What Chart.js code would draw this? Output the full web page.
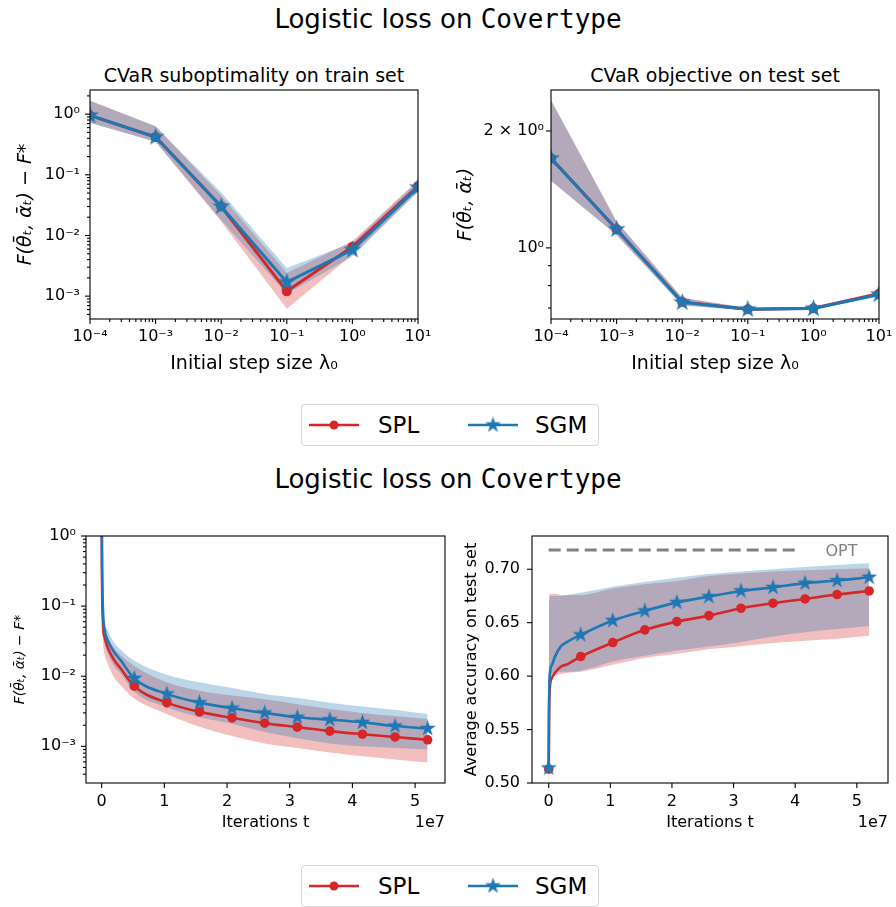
<!DOCTYPE html>
<html>
<head>
<meta charset="utf-8">
<script src="https://cdn.jsdelivr.net/npm/chart.js@4.4.1/dist/chart.umd.min.js"></script>
<style>
  body { margin: 0; background: #fff; font-family: 'DejaVu Sans', sans-serif; }
  #fig { position: relative; width: 896px; height: 907px; overflow: hidden; }
  #fig canvas.plot { position: absolute; }
  .title { position: absolute; left: 0; width: 896px; text-align: center; font-size: 26px; line-height: 30px; }
  .title span { font-family: 'DejaVu Sans Mono', monospace; }
  .sub { position: absolute; width: 330px; text-align: center; font-size: 19px; line-height: 22px; }
  .legend { position: absolute; left: 301px; width: 296px; height: 40px; border: 1px solid #d5d5d5; border-radius: 4px; background: #fff; }
  .legend canvas { position: absolute; top: 10px; }
  .legend div { position: absolute; top: 0; font-size: 23px; line-height: 41px; }
</style>
</head>
<body>
<div id="fig">
  <div class="title" style="top:4px">Logistic loss on <span>Covertype</span></div>
  <div class="sub" style="left:89px;top:64px">CVaR suboptimality on train set</div>
  <div class="sub" style="left:550px;top:64px">CVaR objective on test set</div>
  <canvas class="plot" id="trainChart" width="440" height="310" style="left:0;top:80px"></canvas>
  <canvas class="plot" id="testChart" width="456" height="310" style="left:440px;top:80px"></canvas>
  <div class="legend" style="top:404px">
    <canvas class="icon-spl" width="52" height="20" style="left:6px"></canvas><div style="left:76px">SPL</div>
    <canvas class="icon-sgm" width="52" height="20" style="left:165px"></canvas><div style="left:233px">SGM</div>
  </div>
  <div class="title" style="top:464px">Logistic loss on <span>Covertype</span></div>
  <canvas class="plot" id="gapChart" width="460" height="320" style="left:0;top:520px"></canvas>
  <canvas class="plot" id="accChart" width="456" height="320" style="left:440px;top:520px"></canvas>
  <div class="legend" style="top:865px">
    <canvas class="icon-spl" width="52" height="20" style="left:6px"></canvas><div style="left:76px">SPL</div>
    <canvas class="icon-sgm" width="52" height="20" style="left:165px"></canvas><div style="left:233px">SGM</div>
  </div>
</div>
<script>
// ---- data: step size sweep (top row) ----
const stepSizes = [1e-4, 1e-3, 1e-2, 1e-1, 1, 10];
const stepTickLabels = ['10⁻⁴', '10⁻³', '10⁻²', '10⁻¹', '10⁰', '10¹'];

const trainSPL   = [0.95, 0.42, 0.030, 0.0012, 0.0065, 0.065];
const trainSPLLo = [0.72, 0.35, 0.017, 0.00062, 0.0048, 0.053];
const trainSPLHi = [1.66, 0.63, 0.045, 0.0024, 0.0080, 0.081];
const trainSGM   = [0.95, 0.42, 0.030, 0.0017, 0.0058, 0.062];
const trainSGMLo = [0.72, 0.35, 0.018, 0.0011, 0.0045, 0.052];
const trainSGMHi = [1.66, 0.63, 0.051, 0.0029, 0.0076, 0.079];
const gapTicks = [1e-3, 1e-2, 1e-1, 1];
const gapTickLabels = ['10⁻³', '10⁻²', '10⁻¹', '10⁰'];

const testSPL   = [1.70, 1.117, 0.726, 0.695, 0.699, 0.762];
const testSPLLo = [1.49, 1.08, 0.712, 0.690, 0.694, 0.752];
const testSPLHi = [2.40, 1.17, 0.745, 0.700, 0.704, 0.771];
const testSGM   = [1.70, 1.117, 0.724, 0.695, 0.698, 0.759];
const testSGMLo = [1.49, 1.08, 0.711, 0.690, 0.693, 0.750];
const testSGMHi = [2.40, 1.17, 0.742, 0.700, 0.703, 0.768];
const testTicks = [1, 2];
const testTickLabels = ['10⁰', '2 × 10⁰'];

// ---- data: iterations (bottom row) ----
const iterations = [0, 0.005e7, 0.02e7, 0.05e7, 0.1e7, 0.2e7, 0.3e7, 0.52e7, 1.04e7, 1.56e7,
                    2.08e7, 2.6e7, 3.12e7, 3.64e7, 4.16e7, 4.68e7, 5.2e7];
const markerIdx = [0, 7, 8, 9, 10, 11, 12, 13, 14, 15, 16];
const iterTicks = [0, 1e7, 2e7, 3e7, 4e7, 5e7];
const iterTickLabels = ['0', '1', '2', '3', '4', '5'];

const gapSPL   = [3, 0.3, 0.06, 0.035, 0.025, 0.017, 0.013, 0.0072, 0.0042, 0.0031, 0.00255, 0.00214, 0.00188, 0.00165, 0.00149, 0.00136, 0.00124];
const gapSPLLo = [2, 0.15, 0.035, 0.02, 0.015, 0.0095, 0.0075, 0.0048, 0.0029, 0.0019, 0.0014, 0.0011, 0.00095, 0.00082, 0.00072, 0.00065, 0.00059];
const gapSPLHi = [5, 0.5, 0.09, 0.05, 0.035, 0.025, 0.02, 0.014, 0.0082, 0.0062, 0.0053, 0.0047, 0.0040, 0.0034, 0.0030, 0.0027, 0.00245];
const gapSGM   = [3, 0.5, 0.09, 0.045, 0.032, 0.022, 0.017, 0.0093, 0.0056, 0.0042, 0.0035, 0.0030, 0.0026, 0.0024, 0.0022, 0.00195, 0.0018];
const gapSGMLo = [2, 0.3, 0.06, 0.03, 0.021, 0.014, 0.011, 0.006, 0.0036, 0.0026, 0.0021, 0.0016, 0.0013, 0.0011, 0.0010, 0.00095, 0.0009];
const gapSGMHi = [5, 0.7, 0.12, 0.06, 0.045, 0.03, 0.024, 0.0166, 0.0105, 0.0082, 0.0068, 0.0056, 0.0049, 0.0042, 0.0037, 0.0033, 0.0029];

const accSPL   = [0.513, 0.56, 0.59, 0.598, 0.603, 0.609, 0.611, 0.6183, 0.6314, 0.6433, 0.651, 0.6566, 0.6635, 0.6682, 0.6722, 0.6763, 0.6797];
const accSPLLo = [0.50, 0.58, 0.598, 0.600, 0.601, 0.602, 0.603, 0.604, 0.6106, 0.617, 0.621, 0.6252, 0.628, 0.631, 0.633, 0.635, 0.6377];
const accSPLHi = [0.52, 0.665, 0.677, 0.677, 0.677, 0.676, 0.676, 0.676, 0.682, 0.686, 0.689, 0.6937, 0.696, 0.698, 0.699, 0.700, 0.701];
const accSGM   = [0.514, 0.57, 0.603, 0.61, 0.618, 0.628, 0.632, 0.6386, 0.652, 0.661, 0.669, 0.6744, 0.6797, 0.683, 0.687, 0.6894, 0.6925];
const accSGMLo = [0.50, 0.585, 0.600, 0.602, 0.603, 0.604, 0.604, 0.605, 0.6137, 0.619, 0.624, 0.6277, 0.632, 0.637, 0.641, 0.644, 0.647];
const accSGMHi = [0.52, 0.663, 0.675, 0.675, 0.675, 0.675, 0.676, 0.678, 0.6837, 0.688, 0.692, 0.6956, 0.698, 0.700, 0.702, 0.704, 0.7056];
const accTicks = [0.50, 0.55, 0.60, 0.65, 0.70];
const accTickLabels = ['0.50', '0.55', '0.60', '0.65', '0.70'];
const optAccuracy = 0.718;
const optUntil = 4e7;

const RED = '#d62728', BLUE = '#1f77b4';
const RED_BAND = 'rgba(214,39,40,0.3)', BLUE_BAND = 'rgba(31,119,180,0.3)';
const FONT = "'DejaVu Sans'";

Chart.defaults.font.family = FONT;
Chart.defaults.color = '#000';

function makeStar(color, R) {
    const c = document.createElement('canvas');
    const s = Math.ceil(R * 2 + 2);
    c.width = c.height = s;
    const g = c.getContext('2d');
    g.fillStyle = color;
    g.beginPath();
    for (let i = 0; i < 10; i++) {
        const r = i % 2 ? R * 0.382 : R;
        const a = -Math.PI / 2 + i * Math.PI / 5;
        g.lineTo(s / 2 + r * Math.cos(a), s / 2 + r * Math.sin(a));
    }
    g.closePath();
    g.fill();
    return c;
}

// minor log ticks m*10^k between lo and hi
function logMinors(lo, hi) {
    const out = [];
    for (let k = -6; k <= 2; k++) {
        for (let m = 2; m <= 9; m++) {
            const v = m * Math.pow(10, k);
            if (v > lo && v < hi) out.push(v);
        }
    }
    return out;
}

function pts(xs, ys) {
    return xs.map((x, i) => ({ x: x, y: ys[i] }));
}

function band(xs, ys, color, fill, smooth) {
    return {
        data: pts(xs, ys), borderWidth: 0, pointRadius: 0, fill: fill,
        backgroundColor: color, borderColor: 'transparent',
        cubicInterpolationMode: smooth ? 'monotone' : 'default'
    };
}

function meanLine(xs, ys, color, style, radius, lw, smooth, marks) {
    return {
        data: pts(xs, ys), borderColor: color, backgroundColor: color, borderWidth: lw,
        pointStyle: style, pointBorderWidth: 0, fill: false,
        pointRadius: ctx => (!marks || marks.includes(ctx.dataIndex)) ? radius : 0,
        cubicInterpolationMode: smooth ? 'monotone' : 'default'
    };
}

function axis(type, min, max, ticks, labels, size, pad, title) {
    const horizontal = size.height !== undefined;
    return {
        type: type, min: min, max: max,
        grid: { display: false, drawTicks: false },
        border: { display: false },
        afterBuildTicks: s => { s.ticks = ticks.map(v => ({ value: v })); },
        afterFit: s => {
            // fixed axis boxes so the plot areas line up with the figure
            if (horizontal) {
                s.height = size.height;
                s.paddingLeft = s.paddingRight = 0;
            } else {
                s.width = size.width;
                s.paddingTop = s.paddingBottom = 0;
            }
        },
        ticks: {
            autoSkip: false, maxRotation: 0, padding: pad,
            font: { size: 16 },
            callback: (v, i) => labels[i]
        },
        title: title
    };
}

// box, ticks, offset text and annotations like matplotlib
const framePlugin = {
    id: 'frame',
    afterDraw(chart, args, opts) {
        const { ctx, chartArea: a, scales } = chart;
        ctx.save();
        ctx.strokeStyle = '#000';
        ctx.lineWidth = 1.1;
        ctx.strokeRect(a.left, a.top, a.right - a.left, a.bottom - a.top);
        const tick = (axisScale, v, len, vertical) => {
            const p = axisScale.getPixelForValue(v);
            ctx.beginPath();
            if (vertical) { ctx.moveTo(a.left, p); ctx.lineTo(a.left - len, p); }
            else { ctx.moveTo(p, a.bottom); ctx.lineTo(p, a.bottom + len); }
            ctx.stroke();
        };
        scales.x.ticks.forEach(t => tick(scales.x, t.value, 5, false));
        scales.y.ticks.forEach(t => tick(scales.y, t.value, 5, true));
        (opts.minorX || []).forEach(v => tick(scales.x, v, 3, false));
        (opts.minorY || []).forEach(v => tick(scales.y, v, 3, true));
        if (opts.offsetText) {
            ctx.font = '16px ' + FONT;
            ctx.fillStyle = '#000';
            ctx.textAlign = 'right';
            ctx.textBaseline = 'middle';
            ctx.fillText(opts.offsetText, a.right, a.bottom + 40);
        }
        if (opts.note) {
            ctx.font = '16px ' + FONT;
            ctx.fillStyle = '#808080';
            ctx.textAlign = 'left';
            ctx.textBaseline = 'middle';
            ctx.fillText(opts.note.text, scales.x.getPixelForValue(opts.note.x), scales.y.getPixelForValue(opts.note.y) + 2);
        }
        ctx.restore();
    }
};

const starTop = makeStar(BLUE, 9.5);
const starBottom = makeStar(BLUE, 8.5);

function baseOptions(padding, scales, frame) {
    return {
        responsive: false, animation: false,
        layout: { padding: padding },
        plugins: { legend: { display: false }, tooltip: { enabled: false }, frame: frame },
        scales: scales
    };
}

const labelFont = (size, italic) => ({ size: size, style: italic ? 'italic' : 'normal' });
const yLabel = 'F(θ̄ₜ, ᾱₜ) − F*';

// top left: suboptimality vs step size
new Chart(document.getElementById('trainChart'), {
    type: 'line',
    data: {
        datasets: [
            meanLine(stepSizes, trainSGM, BLUE, starTop, 9, 3, false),
            meanLine(stepSizes, trainSPL, RED, 'circle', 5, 3, false),
            band(stepSizes, trainSGMHi, BLUE_BAND, '+1'),
            band(stepSizes, trainSGMLo, BLUE_BAND, false),
            band(stepSizes, trainSPLHi, RED_BAND, '+1'),
            band(stepSizes, trainSPLLo, RED_BAND, false)
        ]
    },
    options: baseOptions({ top: 10, right: 22, left: 0, bottom: 0 }, {
        x: axis('logarithmic', 1e-4, 10, stepSizes, stepTickLabels, { height: 71 }, 8,
            { display: true, text: 'Initial step size λ₀', font: labelFont(19), padding: { top: 0, bottom: 15 } }),
        y: axis('logarithmic', 4.2e-4, 2.5, gapTicks, gapTickLabels, { width: 90 }, 10,
            { display: true, text: yLabel, font: labelFont(19, true), padding: { top: 15, bottom: 0 } })
    }, { minorX: logMinors(1e-4, 10), minorY: logMinors(4.2e-4, 2.5) }),
    plugins: [framePlugin]
});

// top right: test objective vs step size
new Chart(document.getElementById('testChart'), {
    type: 'line',
    data: {
        datasets: [
            meanLine(stepSizes, testSGM, BLUE, starTop, 9, 3, false),
            meanLine(stepSizes, testSPL, RED, 'circle', 5, 3, false),
            band(stepSizes, testSGMHi, BLUE_BAND, '+1'),
            band(stepSizes, testSGMLo, BLUE_BAND, false),
            band(stepSizes, testSPLHi, RED_BAND, '+1'),
            band(stepSizes, testSPLLo, RED_BAND, false)
        ]
    },
    options: baseOptions({ top: 10, right: 17, left: 0, bottom: 0 }, {
        x: axis('logarithmic', 1e-4, 10, stepSizes, stepTickLabels, { height: 71 }, 8,
            { display: true, text: 'Initial step size λ₀', font: labelFont(19), padding: { top: 0, bottom: 15 } }),
        y: axis('logarithmic', 0.656, 2.55, testTicks, testTickLabels, { width: 111 }, 7,
            { display: true, text: 'F(θ̄ₜ, ᾱₜ)', font: labelFont(19, true), padding: { top: 15, bottom: 0 } })
    }, { minorX: logMinors(1e-4, 10), minorY: logMinors(0.656, 2.55).filter(v => v < 1) }),
    plugins: [framePlugin]
});

// bottom left: suboptimality vs iterations
new Chart(document.getElementById('gapChart'), {
    type: 'line',
    data: {
        datasets: [
            meanLine(iterations, gapSGM, BLUE, starBottom, 8, 2.6, true, markerIdx),
            meanLine(iterations, gapSPL, RED, 'circle', 4.8, 2.6, true, markerIdx),
            band(iterations, gapSGMHi, BLUE_BAND, '+1', true),
            band(iterations, gapSGMLo, BLUE_BAND, false, true),
            band(iterations, gapSPLHi, RED_BAND, '+1', true),
            band(iterations, gapSPLLo, RED_BAND, false, true)
        ]
    },
    options: baseOptions({ top: 16, right: 15, left: 0, bottom: 0 }, {
        x: axis('linear', -0.25e7, 5.477e7, iterTicks, iterTickLabels, { height: 57 }, 9,
            { display: true, text: 'Iterations t', font: labelFont(16), padding: { top: 0, bottom: 8 } }),
        y: axis('logarithmic', 3.45e-4, 1, gapTicks, gapTickLabels, { width: 86 }, 10,
            { display: true, text: yLabel, font: labelFont(14, true), padding: { top: 12, bottom: 0 } })
    }, { minorY: logMinors(3.45e-4, 1), offsetText: '1e7' }),
    plugins: [framePlugin]
});

// bottom right: test accuracy vs iterations
new Chart(document.getElementById('accChart'), {
    type: 'line',
    data: {
        datasets: [
            meanLine(iterations, accSGM, BLUE, starBottom, 8, 2.6, true, markerIdx),
            meanLine(iterations, accSPL, RED, 'circle', 4.8, 2.6, true, markerIdx),
            band(iterations, accSGMHi, BLUE_BAND, '+1', true),
            band(iterations, accSGMLo, BLUE_BAND, false, true),
            band(iterations, accSPLHi, RED_BAND, '+1', true),
            band(iterations, accSPLLo, RED_BAND, false, true),
            {
                data: [{ x: 0, y: optAccuracy }, { x: optUntil, y: optAccuracy }],
                borderColor: '#808080', borderWidth: 3, borderDash: [12, 6],
                pointRadius: 0, fill: false
            }
        ]
    },
    options: baseOptions({ top: 16, right: 2, left: 0, bottom: 0 }, {
        x: axis('linear', -0.271e7, 5.506e7, iterTicks, iterTickLabels, { height: 57 }, 9,
            { display: true, text: 'Iterations t', font: labelFont(16), padding: { top: 0, bottom: 8 } }),
        y: axis('linear', 0.5, 0.7311, accTicks, accTickLabels, { width: 92 }, 12,
            { display: true, text: 'Average accuracy on test set', font: labelFont(16), padding: { top: 22, bottom: 0 } })
    }, { offsetText: '1e7', note: { text: 'OPT', x: 4.49e7, y: optAccuracy } }),
    plugins: [framePlugin]
});

// legend icons
document.querySelectorAll('canvas.icon-spl').forEach(c => {
    const g = c.getContext('2d');
    g.strokeStyle = RED; g.lineWidth = 2.6;
    g.beginPath(); g.moveTo(1, 10); g.lineTo(51, 10); g.stroke();
    g.fillStyle = RED;
    g.beginPath(); g.arc(26, 10, 4.5, 0, Math.PI * 2); g.fill();
});
document.querySelectorAll('canvas.icon-sgm').forEach(c => {
    const g = c.getContext('2d');
    g.strokeStyle = BLUE; g.lineWidth = 2.6;
    g.beginPath(); g.moveTo(1, 10); g.lineTo(51, 10); g.stroke();
    g.drawImage(starBottom, 26 - starBottom.width / 2, 10 - starBottom.height / 2);
});
</script>
</body>
</html>
